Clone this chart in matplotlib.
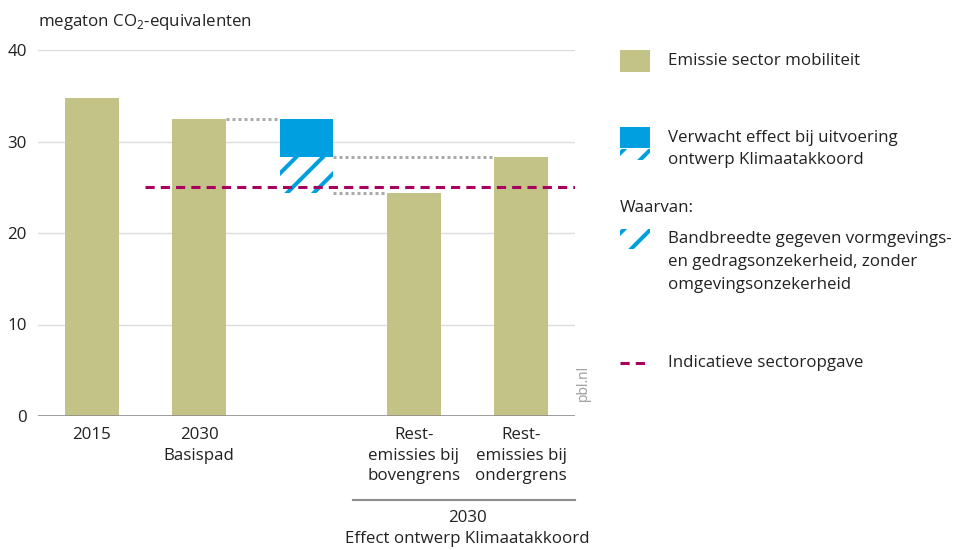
## emissions of the mobility sector, 2015 / 2030 and effect of the draft climate agreement
import numpy as np
import matplotlib
matplotlib.use("Agg")
import matplotlib.pyplot as plt
from matplotlib.patches import Rectangle
from matplotlib.lines import Line2D

## saved at 80 dpi so the hatch spacing comes out close to the original
DPI = 80
plt.rcParams['font.family'] = ['Open Sans', 'DejaVu Sans']
plt.rcParams['hatch.linewidth'] = 3.6

## data
bar_pos = [0, 1, 3, 4]
bar_labels = ["2015", "2030\nBasispad", "Rest-\nemissies bij\nbovengrens", "Rest-\nemissies bij\nondergrens"]
emissions = [34.7, 32.5, 24.4, 28.3]
effect_pos = 2
effect_top = 32.5      # basispad
effect_solid_bottom = 28.3   # ondergrens
effect_hatch_bottom = 24.4   # bovengrens
target = 25.0

olive = "#c3c388"
blue = "#009fdf"
magenta = "#a8005f"
txt = "#222222"
fs = 15.2

fig = plt.figure(figsize=(954/DPI, 550/DPI), dpi=DPI)
ax = fig.add_axes([38/954, 1-416/550, (575-38)/954, (416-50)/550])

ax.set_xlim(-0.5, 4.5)
ax.set_ylim(0, 40)
for s in ax.spines.values():
    s.set_visible(False)

## grid
for g in [10, 20, 30, 40]:
    ax.axhline(g, color="#dcdcdc", lw=1.25, zorder=0)
ax.axhline(0, color="#8c8c8c", lw=1.5, zorder=3)

ax.set_yticks([0, 10, 20, 30, 40])
ax.tick_params(axis="y", length=0, pad=10, labelsize=fs, labelcolor=txt)
ax.set_xticks(bar_pos)
ax.set_xticklabels(bar_labels, linespacing=1.38)
ax.tick_params(axis="x", length=0, pad=10, labelsize=fs, labelcolor=txt)

## bars
w = 0.5
ax.bar(bar_pos, emissions, width=w, color=olive, zorder=2)
ax.bar(effect_pos, effect_top - effect_solid_bottom, bottom=effect_solid_bottom,
       width=w, color=blue, zorder=2)
ax.bar(effect_pos, effect_solid_bottom - effect_hatch_bottom, bottom=effect_hatch_bottom,
       width=w, color="white", edgecolor=blue, hatch="/", linewidth=0, zorder=2)

## dotted connectors
dot = dict(color="#ababab", lw=2.7, dashes=(1, 1), zorder=1)
ax.plot([bar_pos[1] + w/2, effect_pos - w/2], [effect_top, effect_top], **dot)
ax.plot([effect_pos + w/2, bar_pos[3] - w/2], [effect_solid_bottom, effect_solid_bottom], **dot)
ax.plot([effect_pos + w/2, bar_pos[2] - w/2], [effect_hatch_bottom, effect_hatch_bottom], **dot)

## target line
ax.plot([0.5, 4.5], [target, target], color=magenta, lw=2.75, dashes=(3, 2), zorder=4)

## group label below
ax.plot([2.43, 4.5], [-9.2, -9.2], color="#8c8c8c", lw=1.9, clip_on=False)
ax.text(3.5, -10.3, "2030\nEffect ontwerp Klimaatakkoord", ha="center", va="top",
        fontsize=fs, color=txt, linespacing=1.38, clip_on=False)

ax.text(1.015, 0.04, "pbl.nl", transform=ax.transAxes, rotation=90, ha="center",
        va="bottom", fontsize=12.5, color="#9a9a9a")

fig.text(38/954, 1-22/550, r"megaton CO$_\mathregular{2}$-equivalenten", ha="left",
         va="center", fontsize=fs, color=txt)

## legend, drawn by hand in pixel coordinates
lax = fig.add_axes([0, 0, 1, 1], zorder=-1)
lax.set_xlim(0, 954)
lax.set_ylim(550, 0)
lax.axis("off")

lx, tx = 620, 668
lax.add_patch(Rectangle((lx, 50), 30, 22, color=olive, lw=0))
lax.text(tx, 61, "Emissie sector mobiliteit", va="center", fontsize=fs, color=txt)

lax.add_patch(Rectangle((lx, 127), 30, 21, color=blue, lw=0))
lax.add_patch(Rectangle((lx, 149), 30, 11, facecolor="white", edgecolor=blue, hatch="/", lw=0))
lax.text(tx, 138, "Verwacht effect bij uitvoering", va="center", fontsize=fs, color=txt)
lax.text(tx, 160, "ontwerp Klimaatakkoord", va="center", fontsize=fs, color=txt)

lax.text(lx, 208, "Waarvan:", va="center", fontsize=fs, color=txt)

lax.add_patch(Rectangle((lx, 229), 30, 20, facecolor="white", edgecolor=blue, hatch="/", lw=0))
lax.text(tx, 239, "Bandbreedte gegeven vormgevings-", va="center", fontsize=fs, color=txt)
lax.text(tx, 262, "en gedragsonzekerheid, zonder", va="center", fontsize=fs, color=txt)
lax.text(tx, 285, "omgevingsonzekerheid", va="center", fontsize=fs, color=txt)

lax.add_line(Line2D([lx, lx + 30], [363, 363], color=magenta, lw=2.75, dashes=(3, 2)))
lax.text(tx, 363, "Indicatieve sectoropgave", va="center", fontsize=fs, color=txt)

fig.savefig("out.png", dpi=DPI)
